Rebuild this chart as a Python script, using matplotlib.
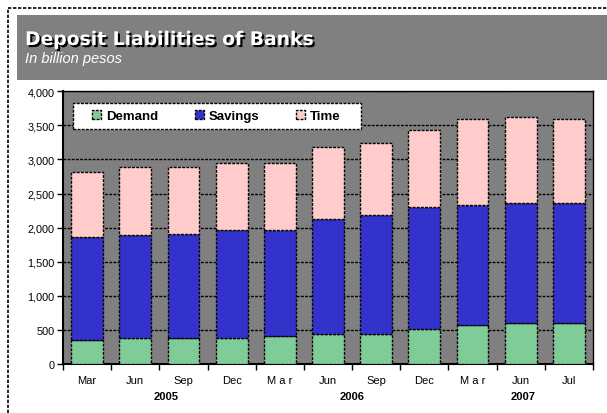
import matplotlib
matplotlib.use("Agg")
import matplotlib.pyplot as plt
import matplotlib.patheffects as pe
from matplotlib.lines import Line2D
from matplotlib.patches import Rectangle
import numpy as np

# quarterly deposit liabilities, billion pesos
months = ["Mar", "Jun", "Sep", "Dec", "M a r", "Jun", "Sep", "Dec", "M a r", "Jun", "Jul"]
years = ["2005", "2006", "2007"]
year_pos = [1.65, 5.5, 9.05]

demand = [352, 386, 381, 381, 415, 445, 445, 513, 572, 596, 596]
savings = [1506, 1506, 1529, 1589, 1555, 1675, 1740, 1784, 1759, 1760, 1760]
time_dep = [962, 992, 974, 973, 973, 1057, 1051, 1139, 1261, 1261, 1236]

plt.rcParams["font.family"] = ["Liberation Sans", "DejaVu Sans"]

W, H = 607, 414
fig = plt.figure(figsize=(W / 100, H / 100), dpi=100)
fig.patch.set_facecolor("white")

dash = (0, (2, 1))

# outer frame: left and top edges only
fig.add_artist(Line2D([8 / W, 8 / W], [0, 1 - 9 / H], color="black", lw=1.2, ls=dash))
fig.add_artist(Line2D([8 / W, 1], [1 - 9 / H, 1 - 9 / H], color="black", lw=1.2, ls=dash))

# header band
fig.add_artist(Rectangle((17 / W, 1 - 81 / H), 1, 65 / H, transform=fig.transFigure,
                         facecolor="#808080", edgecolor="none"))
fig.text(25 / W, 1 - 46 / H, "Deposit Liabilities of Banks", color="white",
         fontsize=13.5, fontweight="bold", va="baseline", family="DejaVu Sans",
         path_effects=[pe.withSimplePatchShadow(offset=(1.5, -1.5), shadow_rgbFace="black",
                                                alpha=1.0)])
fig.text(25 / W, 1 - 63.5 / H, "In billion pesos", color="white", fontsize=10.5,
         style="italic", va="baseline")

ax = fig.add_axes([63 / W, 49 / H, 530 / W, 272.7 / H])
ax.set_facecolor("#808080")
AW, AH = 530, 272.7

x = np.arange(len(months))
bw = 0.66
bottom2 = np.array(demand)
bottom3 = bottom2 + np.array(savings)
edge = dict(edgecolor="black", linewidth=1.0, linestyle=dash, zorder=3)
ax.bar(x, demand, bw, color="#80CC99", label="Demand", **edge)
ax.bar(x, savings, bw, bottom=bottom2, color="#3333CC", label="Savings", **edge)
ax.bar(x, time_dep, bw, bottom=bottom3, color="#FFCCCC", label="Time", **edge)

ax.set_xlim(-0.5, len(months) - 0.5)
ax.set_ylim(0, 4000)
ax.set_yticks(np.arange(0, 4001, 500))
ax.set_yticklabels([f"{v:,}" for v in range(0, 4001, 500)], fontsize=7.8)
ax.yaxis.grid(True, color="black", lw=1.0, ls=dash, zorder=1)
ax.set_axisbelow(True)

ax.set_xticks(x)
ax.set_xticklabels(months, fontsize=8)
ax.set_xticks(np.arange(-0.5, len(months), 1), minor=True)
ax.tick_params(axis="x", which="major", length=0, pad=8)
ax.tick_params(axis="x", which="minor", length=4, width=1, direction="out")
ax.tick_params(axis="y", length=4, width=1, direction="out", pad=2)

for s in ("left", "bottom"):
    ax.spines[s].set_linewidth(1.5)
for s in ("top", "right"):
    ax.spines[s].set_linestyle(dash)
    ax.spines[s].set_linewidth(1.0)

for yr, p in zip(years, year_pos):
    ax.text(p, -0.116, yr, transform=ax.get_xaxis_transform(), ha="center",
            va="center", fontsize=8, fontweight="bold")

# legend box drawn separately so its padding can be set in pixels
box = Rectangle((10 / AW, 1 - 38 / AH), 288 / AW, 26 / AH, transform=ax.transAxes,
                facecolor="white", edgecolor="black", lw=1.0, ls=dash, zorder=5)
ax.add_patch(box)
leg = ax.legend(loc="center left", bbox_to_anchor=(29 / AW, 1 - 25 / AH), ncol=3,
                prop={"weight": "bold", "size": 9.5}, frameon=False,
                handlelength=0.68, handleheight=0.68, handletextpad=0.4,
                columnspacing=2.75, borderpad=0, borderaxespad=0)
leg.set_zorder(6)

fig.savefig("out.png", dpi=100)
